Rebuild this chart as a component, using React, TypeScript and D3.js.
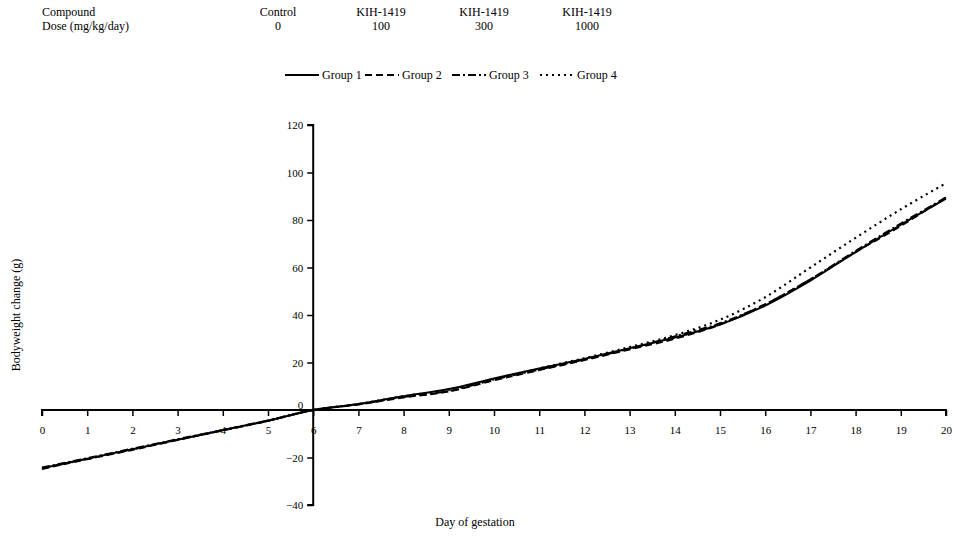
import React, { useEffect, useRef } from "react";
import * as d3 from "d3";

// header table
const compounds = ["Control", "KIH-1419", "KIH-1419", "KIH-1419"];
const doses = ["0", "100", "300", "1000"];

// chart data
const days = [0, 1, 2, 3, 4, 5, 6, 7, 8, 9, 10, 11, 12, 13, 14, 15, 16, 17, 18, 19, 20];
const group1 = [-24.5, -20.5, -16.5, -12.5, -8.5, -4.5, 0, 2.5, 5.8, 8.8, 13.3, 17.5, 21.5, 26, 30.5, 36, 44, 54.5, 66.5, 78, 89];
const group2 = [-24.8, -20.7, -16.8, -12.6, -8.6, -4.6, 0, 2.3, 5.3, 7.8, 12.5, 16.8, 21, 25.5, 30, 36, 44.5, 55, 66.5, 77.5, 89.5];
const group3 = [-24.2, -20.3, -16.3, -12.3, -8.4, -4.4, 0, 2.4, 5.5, 8, 12.8, 17, 21.3, 25.8, 31, 36.5, 44.5, 55, 67, 78.5, 89.5];
const group4 = [-24.6, -20.6, -16.6, -12.5, -8.5, -4.5, 0, 2.5, 5.8, 8.5, 13, 17.5, 21.8, 26.5, 31.5, 38, 47.5, 60, 72.5, 84.5, 95.5];
const groupNames = ["Group 1", "Group 2", "Group 3", "Group 4"];
const yTicks = [-40, -20, 0, 20, 40, 60, 80, 100, 120];

const dashes = [null, "7,4", "8,3,2,3", "2,4"];

export default function App() {
  const ref = useRef<SVGSVGElement>(null);

  useEffect(() => {
    const svg = d3.select(ref.current);
    svg.selectAll("*").remove();
    const font = "Liberation Serif, Times New Roman, serif";

    const x = d3.scaleLinear().domain([0, 20]).range([42, 946]);
    const y = d3.scaleLinear().domain([0, 120]).range([410, 125]);

    // header
    const head = svg.append("g").attr("font-family", font).attr("font-size", 12);
    head.append("text").attr("x", 42).attr("y", 16).text("Compound");
    head.append("text").attr("x", 42).attr("y", 30).text("Dose (mg/kg/day)");
    const colX = d3.scalePoint().domain(compounds.map((_, i) => String(i))).range([278, 587]);
    compounds.forEach((c, i) => {
      head.append("text").attr("x", colX(String(i))!).attr("y", 16).attr("text-anchor", "middle").text(c);
      head.append("text").attr("x", colX(String(i))!).attr("y", 30).attr("text-anchor", "middle").text(doses[i]);
    });

    // legend
    const legend = svg.append("g").attr("font-family", font).attr("font-size", 12);
    const legendX = [285, 365, 452, 540];
    groupNames.forEach((g, i) => {
      legend
        .append("line")
        .attr("x1", legendX[i])
        .attr("x2", legendX[i] + 34)
        .attr("y1", 75)
        .attr("y2", 75)
        .attr("stroke", "#000")
        .attr("stroke-width", 1.8)
        .attr("stroke-dasharray", dashes[i]);
      legend.append("text").attr("x", legendX[i] + 37).attr("y", 79).text(g);
    });

    // x axis along zero
    const xAxis = svg
      .append("g")
      .attr("transform", `translate(0,${y(0)})`)
      .call(d3.axisBottom(x).tickValues(days).tickSize(6).tickFormat(d3.format("d")));
    xAxis.attr("font-family", font).attr("font-size", 11);
    xAxis.select(".domain").attr("stroke-width", 2).attr("d", `M${x(0)},6V0H${x(20)}V6`);
    xAxis.selectAll(".tick line").attr("stroke-width", 1.5);
    xAxis.selectAll("text").attr("dy", "1.4em");

    // y axis at day 6
    const yAxis = svg
      .append("g")
      .attr("transform", `translate(${x(6)},0)`)
      .call(d3.axisLeft(y).tickValues(yTicks).tickSize(6).tickFormat(d3.format("d")));
    yAxis.attr("font-family", font).attr("font-size", 11);
    yAxis.select(".domain").attr("stroke-width", 2).attr("d", `M-6,${y(-40)}H0V${y(120)}H-6`);
    yAxis.selectAll(".tick line").attr("stroke-width", 1.5);
    yAxis.selectAll("text").attr("x", -10);
    yAxis.selectAll(".tick").filter((d) => d === 0).select("text").attr("dy", "-0.1em");

    // series
    const line = d3
      .line<number>()
      .x((_, i) => x(days[i]))
      .y((d) => y(d))
      .curve(d3.curveCatmullRom.alpha(0.5));
    [group1, group2, group3, group4].forEach((s, i) => {
      svg
        .append("path")
        .datum(s)
        .attr("d", line)
        .attr("fill", "none")
        .attr("stroke", "#000")
        .attr("stroke-width", i === 3 ? 2.2 : 2)
        .attr("stroke-dasharray", dashes[i]);
    });

    // axis titles
    svg
      .append("text")
      .attr("transform", `translate(20,${y(40)}) rotate(-90)`)
      .attr("text-anchor", "middle")
      .attr("font-family", font)
      .attr("font-size", 12)
      .text("Bodyweight change (g)");
    svg
      .append("text")
      .attr("x", 475)
      .attr("y", 526)
      .attr("text-anchor", "middle")
      .attr("font-family", font)
      .attr("font-size", 12)
      .text("Day of gestation");
  }, []);

  return (
    <svg
      ref={ref}
      width={954}
      height={540}
      style={{ position: "absolute", left: 0, top: 0, background: "#fff" }}
    />
  );
}
